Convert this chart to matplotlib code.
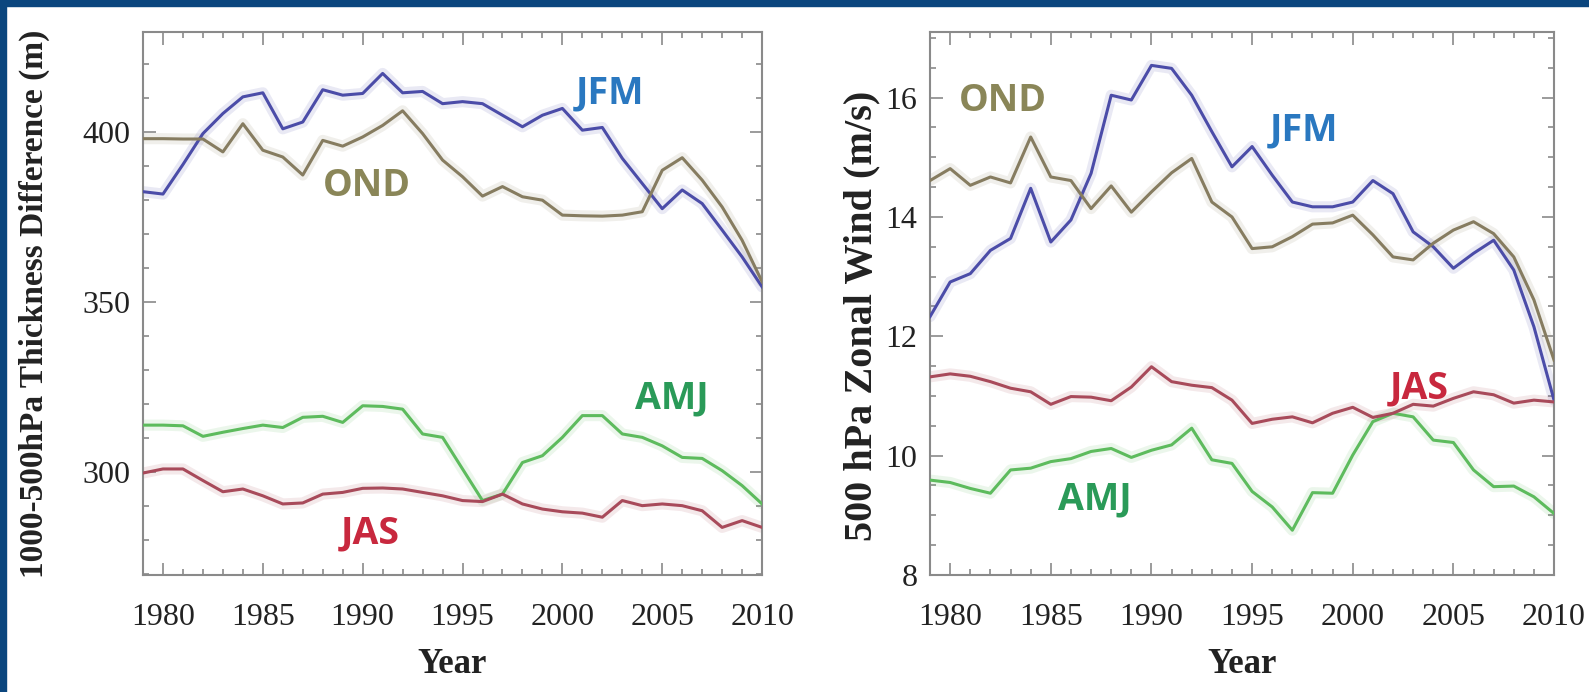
import numpy as np
import matplotlib
matplotlib.use("Agg")
import matplotlib.pyplot as plt
from matplotlib.ticker import MultipleLocator
from matplotlib.patches import Rectangle

years = list(range(1979, 2011))

# left panel: 1000-500 hPa thickness difference (m)
thick_jfm = [382.5, 381.8, 390.5, 399.6, 405.5, 410.4, 411.6, 401.0, 403.0, 412.5, 410.9,
             411.4, 417.3, 411.6, 412.0, 408.4, 409.0, 408.4, 405.0, 401.6, 405.0, 407.0,
             400.6, 401.4, 392.3, 384.9, 377.5, 383.0, 379.0, 371.2, 363.3, 354.5]
thick_ond = [398.1, 398.1, 398.0, 398.0, 394.2, 402.5, 394.7, 392.7, 387.4, 397.6, 395.9,
             398.6, 402.0, 406.3, 399.6, 391.8, 386.9, 381.2, 384.0, 381.0, 380.0, 375.6,
             375.4, 375.3, 375.6, 376.6, 388.8, 392.5, 385.9, 378.0, 368.2, 356.0]
thick_amj = [313.8, 313.8, 313.6, 310.5, 311.7, 312.8, 313.8, 313.1, 316.1, 316.4, 314.6,
             319.5, 319.3, 318.5, 311.2, 310.2, 300.9, 291.6, 293.5, 302.8, 304.8, 310.2,
             316.6, 316.6, 311.2, 310.2, 307.7, 304.3, 304.0, 300.4, 296.0, 290.6]
thick_jas = [299.7, 300.9, 300.9, 297.5, 294.2, 295.0, 293.0, 290.6, 290.9, 293.5, 294.0,
             295.2, 295.3, 295.0, 294.0, 293.0, 291.6, 291.3, 293.5, 290.6, 289.1, 288.3,
             287.9, 286.7, 291.6, 290.1, 290.6, 290.1, 288.6, 283.7, 285.7, 283.7]

# right panel: 500 hPa zonal wind (m/s)
wind_jfm = [12.33, 12.91, 13.05, 13.44, 13.64, 14.48, 13.58, 13.95, 14.73, 16.04, 15.96,
            16.54, 16.49, 16.04, 15.43, 14.84, 15.18, 14.70, 14.25, 14.17, 14.17, 14.25,
            14.61, 14.39, 13.75, 13.50, 13.14, 13.39, 13.61, 13.11, 12.16, 10.93]
wind_ond = [14.61, 14.81, 14.53, 14.67, 14.57, 15.34, 14.67, 14.61, 14.14, 14.52, 14.08,
            14.42, 14.74, 14.98, 14.25, 14.00, 13.47, 13.50, 13.67, 13.88, 13.90, 14.03,
            13.70, 13.33, 13.28, 13.56, 13.78, 13.92, 13.72, 13.33, 12.61, 11.60]
wind_amj = [9.59, 9.55, 9.45, 9.37, 9.76, 9.79, 9.90, 9.95, 10.07, 10.12, 9.97,
            10.09, 10.18, 10.46, 9.93, 9.87, 9.40, 9.14, 8.75, 9.38, 9.37, 10.01,
            10.57, 10.71, 10.65, 10.26, 10.22, 9.76, 9.48, 9.49, 9.31, 9.03]
wind_jas = [11.32, 11.37, 11.33, 11.24, 11.13, 11.07, 10.86, 10.99, 10.98, 10.92, 11.15,
            11.49, 11.24, 11.18, 11.14, 10.93, 10.54, 10.61, 10.65, 10.55, 10.71, 10.81,
            10.64, 10.71, 10.86, 10.83, 10.96, 11.07, 11.02, 10.88, 10.93, 10.90]

seasons = ["JFM", "OND", "AMJ", "JAS"]
line_colors = {"JFM": "#4b4ca8", "OND": "#867c60", "AMJ": "#5dbb5d", "JAS": "#a84a5a"}
text_colors = {"JFM": "#2a78c0", "OND": "#8a8658", "AMJ": "#2a9a58", "JAS": "#c8283e"}

left_series = {"JFM": thick_jfm, "OND": thick_ond, "AMJ": thick_amj, "JAS": thick_jas}
right_series = {"JFM": wind_jfm, "OND": wind_ond, "AMJ": wind_amj, "JAS": wind_jas}

left_labels = {"JFM": (2002.4, 411.5), "OND": (1990.2, 384.3),
               "AMJ": (2005.5, 321.5), "JAS": (1990.4, 282.0)}
right_labels = {"JFM": (1997.6, 15.45), "OND": (1982.6, 15.94),
                "AMJ": (1987.2, 9.27), "JAS": (2003.3, 11.13)}

serif = "Liberation Serif"
label_font = "Open Sans"

fig = plt.figure(figsize=(15.89, 6.92), dpi=100)
fig.patch.set_facecolor("white")

# dark blue frame on the left and top edges
fig.patches.append(Rectangle((0, 0), 6 / 1589, 1, transform=fig.transFigure,
                             color="#0b467e", zorder=10))
fig.patches.append(Rectangle((0, 1 - 6 / 692), 1, 6 / 692, transform=fig.transFigure,
                             color="#0b467e", zorder=10))

ax1 = fig.add_axes([0.0900, 0.1691, 0.3896, 0.7847])
ax2 = fig.add_axes([0.5853, 0.1691, 0.3927, 0.7847])


def draw_panel(ax, series, labels):
    for s in seasons:
        ax.plot(years, series[s], color=line_colors[s], lw=8, alpha=0.12,
                solid_capstyle="round", zorder=2)
        ax.plot(years, series[s], color=line_colors[s], lw=2.2, zorder=3)
        x, y = labels[s]
        ax.text(x, y, s, color=text_colors[s], fontsize=27, fontweight="bold",
                family=label_font, ha="center", va="center", zorder=4)
    ax.set_xlim(1979, 2010)
    ax.xaxis.set_major_locator(MultipleLocator(5))
    ax.xaxis.set_minor_locator(MultipleLocator(1))
    for sp in ax.spines.values():
        sp.set_color("#8a8a8a")
        sp.set_linewidth(1.5)
    ax.tick_params(which="both", direction="in", top=True, right=True,
                   color="#8a8a8a", width=1.2)
    ax.tick_params(which="major", length=9)
    ax.tick_params(which="minor", length=4)
    ax.tick_params(axis="x", pad=20, labelsize=23)
    ax.tick_params(axis="y", pad=9, labelsize=23)
    for lab in ax.get_xticklabels() + ax.get_yticklabels():
        lab.set_family(serif)
        lab.set_color("#222222")
    ax.set_xlabel("Year", fontsize=25, family=serif, fontweight="bold", color="#222222")
    ax.xaxis.set_label_coords(0.5, -0.135)


draw_panel(ax1, left_series, left_labels)
ax1.set_ylim(269.7, 429.5)
ax1.yaxis.set_major_locator(MultipleLocator(50))
ax1.yaxis.set_minor_locator(MultipleLocator(10))
ax1.set_ylabel("1000-500hPa Thickness Difference (m)", fontsize=24, family=serif,
               fontweight="bold", color="#222222")
ax1.yaxis.set_label_coords(-0.15, 0.5)

draw_panel(ax2, right_series, right_labels)
ax2.set_ylim(8, 17.1)
ax2.yaxis.set_major_locator(MultipleLocator(2))
ax2.yaxis.set_minor_locator(MultipleLocator(0.5))
ax2.set_ylabel("500 hPa Zonal Wind (m/s)", fontsize=29, family=serif,
               fontweight="bold", color="#222222")
ax2.yaxis.set_label_coords(-0.08, 0.477)

for ax in (ax1, ax2):
    for lab in ax.get_xticklabels() + ax.get_yticklabels():
        lab.set_family(serif)

fig.savefig("out.png", dpi=100)
